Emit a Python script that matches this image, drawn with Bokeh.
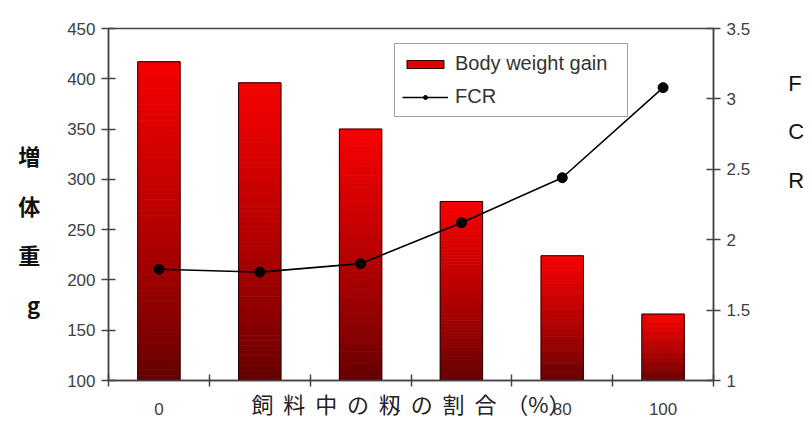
import numpy as np
from bokeh.plotting import figure
from bokeh.models import Range1d, LinearAxis, FixedTicker, Legend, LegendItem
from bokeh.embed import file_html
from bokeh.resources import INLINE

# ---- data ----
categories = ["0", "20", "40", "60", "80", "100"]
weight_gain = [417, 396, 350, 278, 224, 166]
fcr = [1.79, 1.77, 1.83, 2.12, 2.44, 3.08]
left_ticks = [100, 150, 200, 250, 300, 350, 400, 450]
right_ticks = [1, 1.5, 2, 2.5, 3, 3.5]
x_title_chars = ["飼", "料", "中", "の", "籾", "の", "割", "合", "（%）"]
y_title_chars = ["増", "体", "重", "g"]
y2_title_chars = ["F", "C", "R"]
# tick labels hidden behind the x-axis title in the reference
covered_labels = ["20", "40", "60"]

# ---- layout constants ----
W, H = 810, 421
FL, FR, FT, FB = 108, 713, 28, 381
n = len(categories)
y0, y1 = left_ticks[0], left_ticks[-1]

p = figure(width=W, height=H, x_range=Range1d(0, n), y_range=Range1d(y0, y1),
           output_backend="svg", toolbar_location=None, title=None,
           min_border_left=FL, min_border_right=W - FR,
           min_border_top=FT, min_border_bottom=H - FB)
p.grid.visible = False
p.background_fill_color = "white"
p.border_fill_color = "white"
p.outline_line_color = "#444444"
p.outline_line_width = 1.5

p.extra_y_ranges = {"fcr": Range1d(right_ticks[0], right_ticks[-1])}

xs = [i + 0.5 for i in range(n)]
bw = 0.42

# ---- gradient bars (built from slices) ----
N = 60
L, R_, B, T, C = [], [], [], [], []
top_rgb = np.array([246, 0, 0])
bot_rgb = np.array([96, 0, 0])
for xc, v in zip(xs, weight_gain):
    edges = np.linspace(y0, v, N + 1)
    for k in range(N):
        t = ((k + 0.5) / N) ** 0.8
        c = bot_rgb + (top_rgb - bot_rgb) * t
        L.append(xc - bw / 2); R_.append(xc + bw / 2)
        B.append(edges[k]); T.append(edges[k + 1])
        C.append("#%02x%02x%02x" % tuple(int(round(q)) for q in c))
p.quad(left=L, right=R_, bottom=B, top=T, fill_color=C, line_color=C, line_width=0.8)
p.vbar(x=xs, width=bw, bottom=y0, top=weight_gain, fill_color=None,
       line_color="#2a0000", line_width=1)
# legend proxy: zero-height bar sitting on the baseline under the first bar
bar_leg = p.vbar(x=xs[:1], width=bw, top=[y0], bottom=[y0], fill_color="#e00000",
                 line_color="#2a0000", line_width=1.2)

# ---- FCR line ----
ln = p.line(xs, fcr, y_range_name="fcr", line_color="black", line_width=1.6)
pts = p.scatter(xs, fcr, y_range_name="fcr", size=10, color="black")

# ---- axes ----
tick_font = "Liberation Sans"
tick_color = "#404040"

xa = p.xaxis[0]
xa.ticker = FixedTicker(ticks=xs, minor_ticks=list(range(n + 1)))
xa.major_label_overrides = {x: ("" if c in covered_labels else c)
                            for x, c in zip(xs, categories)}
xa.major_tick_in = 0
xa.major_tick_out = 0
xa.minor_tick_in = 6
xa.minor_tick_out = 6
xa.minor_tick_line_color = "#444444"
xa.minor_tick_line_width = 1.5

ya = p.yaxis[0]
ya.ticker = FixedTicker(ticks=left_ticks, minor_ticks=[])

ra = LinearAxis(y_range_name="fcr",
                ticker=FixedTicker(ticks=right_ticks, minor_ticks=[]),
                major_label_overrides={t: f"{t:g}" for t in right_ticks})
p.add_layout(ra, "right")

for ax in (xa, ya, ra):
    ax.axis_line_color = "#444444"
    ax.axis_line_width = 1.5
    ax.major_label_text_font = tick_font
    ax.major_label_text_font_size = "17px"
    ax.major_label_text_color = tick_color
    ax.major_label_standoff = 6
for ax in (ya, ra):
    ax.major_tick_in = 7
    ax.major_tick_out = 7
    ax.major_tick_line_color = "#444444"
    ax.major_tick_line_width = 1.5
xa.major_label_standoff = 16

# ---- axis titles ----
nb = "\u00a0\u00a0"
xa.axis_label = nb.join(x_title_chars)
xa.axis_label_text_font = "Noto Sans CJK JP"
xa.axis_label_text_font_size = "22px"
xa.axis_label_text_font_style = "normal"
xa.axis_label_text_color = "#222222"
xa.axis_label_standoff = -31

ya.axis_label = "\n" + "\n".join(y_title_chars)
ya.axis_label_orientation = "horizontal"
ya.axis_label_text_font = "Noto Sans CJK JP"
ya.axis_label_text_font_size = "22px"
ya.axis_label_text_font_style = "bold"
ya.axis_label_text_color = "#111111"
ya.axis_label_text_line_height = 1.56
ya.axis_label_standoff = 24

ra.axis_label = "\n".join(y2_title_chars) + "\n\n\n"
ra.axis_label_orientation = "horizontal"
ra.axis_label_text_font = "Liberation Sans"
ra.axis_label_text_font_size = "22px"
ra.axis_label_text_font_style = "normal"
ra.axis_label_text_color = "#111111"
ra.axis_label_text_line_height = 1.94
ra.axis_label_standoff = 35

# ---- legend ----
legend = Legend(items=[LegendItem(label="Body weight gain", renderers=[bar_leg]),
                       LegendItem(label="FCR", renderers=[ln, pts])],
                location=(286, 263), margin=0, padding=7, spacing=8,
                glyph_width=46, glyph_height=10, label_height=25, label_width=165,
                label_standoff=7, label_text_font=tick_font,
                label_text_font_size="20px", label_text_color="#333333",
                border_line_color="#444444", border_line_width=1.5,
                background_fill_color="white", background_fill_alpha=1)
p.add_layout(legend, "center")

open("out.html", "w").write(file_html(p, INLINE))
